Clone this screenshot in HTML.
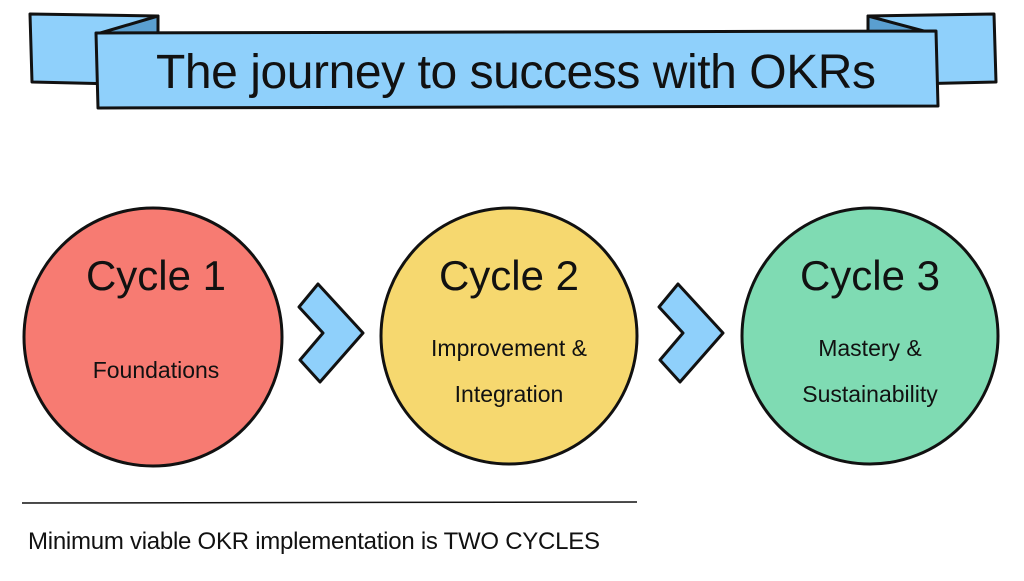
<!DOCTYPE html>
<html><head><style>
body{margin:0;width:1024px;height:576px;background:#fff;overflow:hidden}
svg text{font-family:"Liberation Sans Narrow","Liberation Sans",sans-serif;fill:#111}
</style></head><body>
<svg width="1024" height="576" viewBox="0 0 1024 576">
<g stroke="#111" stroke-width="3" stroke-linejoin="round">
<polygon points="30,14 158,16 158,85 32,82" fill="#8fd0fb"/>
<polygon points="868,16 994,14 996,82 870,85" fill="#8fd0fb"/>
<polygon points="97,34 158,16 158,34" fill="#5a9fd0"/>
<polygon points="935,34 868,16 868,34" fill="#5a9fd0"/>
<polygon points="96,33 936,31 938,106 98,108" fill="#8fd0fb"/>
<circle cx="153" cy="337" r="129" fill="#f77b72"/>
<circle cx="509" cy="336" r="128" fill="#f6d86f"/>
<circle cx="870" cy="336" r="128" fill="#7fdbb3"/>
<polygon points="318,284 363,333 320,382 300,360 323,333 299,307" fill="#8fd0fb"/>
<polygon points="678,284 723,333 680,382 660,360 683,333 659,307" fill="#8fd0fb"/>
<line x1="22" y1="503" x2="637" y2="502" stroke-width="1.5"/>
</g>
<text x="516" y="88" font-size="48" text-anchor="middle" textLength="720">The journey to success with OKRs</text>
<text x="156" y="290" font-size="42" text-anchor="middle">Cycle 1</text>
<text x="156" y="378" font-size="23" text-anchor="middle">Foundations</text>
<text x="509" y="290" font-size="42" text-anchor="middle">Cycle 2</text>
<text x="509" y="356" font-size="23" text-anchor="middle">Improvement &amp;</text>
<text x="509" y="402" font-size="23" text-anchor="middle">Integration</text>
<text x="870" y="290" font-size="42" text-anchor="middle">Cycle 3</text>
<text x="870" y="356" font-size="23" text-anchor="middle">Mastery &amp;</text>
<text x="870" y="402" font-size="23" text-anchor="middle">Sustainability</text>
<text x="28" y="549" font-size="24" textLength="572">Minimum viable OKR implementation is TWO CYCLES</text>
</svg>
</body></html>
